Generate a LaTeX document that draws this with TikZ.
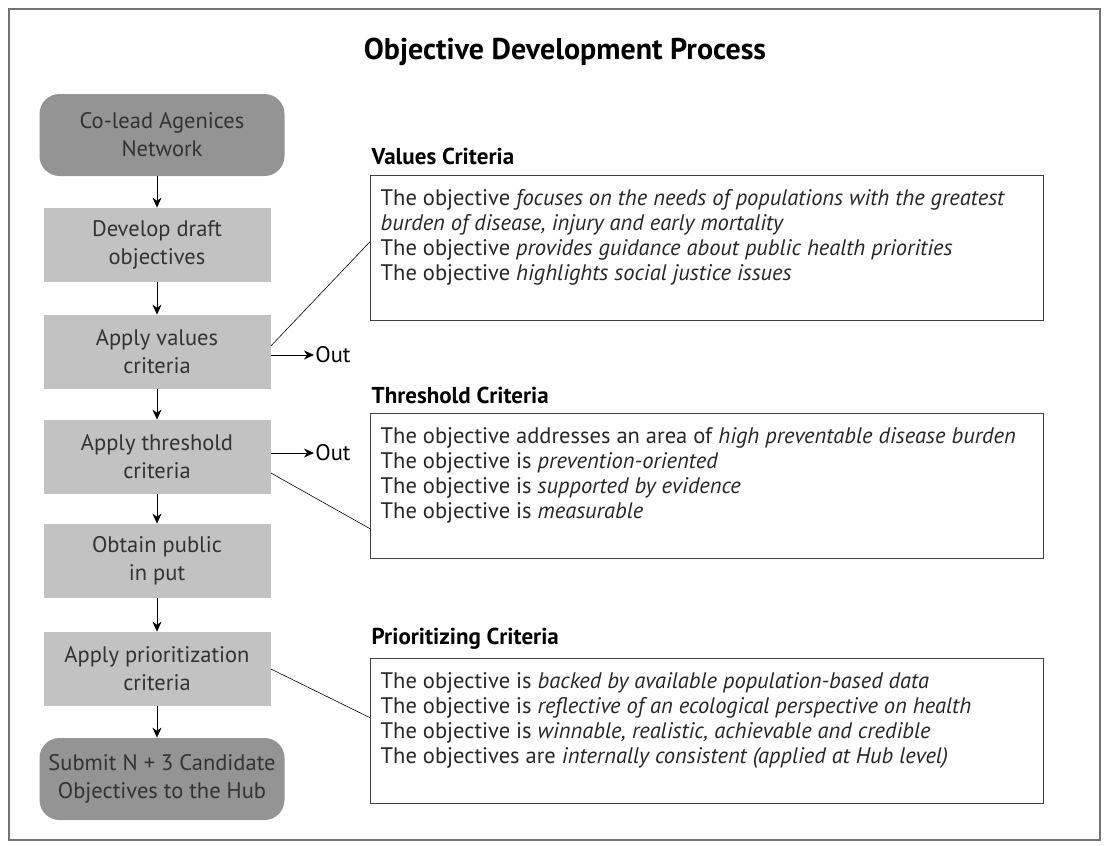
\documentclass[tikz,border=0pt]{standalone}
\usepackage{fontspec}
\setmainfont{PT Sans}
\usetikzlibrary{arrows.meta}
\tikzset{
	every path/.style={thick},
	stepbox/.style={
		rectangle,
		fill=black!24,
		text=black!80,
		align=center,
		minimum width=227pt,
		minimum height=74pt,
		font=\fontsize{22.5}{28}\selectfont,
	},
	endbox/.style={
		stepbox,
		rounded corners=20pt,
		fill=black!42,
		minimum width=245pt,
		minimum height=82pt,
	},
	critbox/.style={
		draw=black!75,
		thin,
		rectangle,
		anchor=north west,
		minimum width=673pt,
		minimum height=145pt,
	},
	crittext/.style={
		anchor=north west,
		align=left,
		text=black!85,
		font=\fontsize{22.5}{25}\selectfont,
	},
	crithead/.style={
		anchor=west,
		font=\fontsize{23}{26}\selectfont\bfseries,
	},
	outlabel/.style={
		inner sep=1pt,
		font=\fontsize{22.5}{26}\selectfont,
	},
	flow/.style={
		-{Stealth[length=10pt,width=9pt]},
	},
	link/.style={semithick},
}

\begin{document}
\begin{tikzpicture}[x=1pt,y=-1pt]
		\useasboundingbox (0,0) rectangle (1106,846);
		\draw[black!55,line width=2pt] (9,9) rectangle (1100,840);

		\node[font=\fontsize{30}{36}\selectfont\bfseries] (title) at (565,52) {Objective Development Process};

		% process steps
		\node[endbox] (colead) at (162,135) {Co-lead Agenices\\Network};
		\node[stepbox] (draft) at (157,245) {Develop draft\\objectives};
		\node[stepbox] (values) at (157,352) {Apply values\\criteria};
		\node[stepbox] (thresh) at (157,457) {Apply threshold\\criteria};
		\node[stepbox] (public) at (157,561) {Obtain public\\in put};
		\node[stepbox] (prior) at (157,669) {Apply prioritization\\criteria};
		\node[endbox] (submit) at (162,779) {Submit N + 3 Candidate\\Objectives to the Hub};

		\draw[flow] (colead.south -| draft.north) -- (draft.north);
		\draw[flow] (draft) -- (values);
		\draw[flow] (values) -- (thresh);
		\draw[flow] (thresh) -- (public);
		\draw[flow] (public) -- (prior);
		\draw[flow] (prior.south) -- (submit.north -| prior.south);

		% out arrows
		\node[outlabel, anchor=west] (outv) at (314,355) {Out};
		\node[outlabel, anchor=west] (outt) at (314,453) {Out};
		\draw[flow] (values.east |- outv.west) -- (outv.west);
		\draw[flow] (thresh.east |- outt.west) -- (outt.west);

		% criteria
		\node[crithead] (valhead) at (368,156) {Values Criteria};
		\node[critbox] (valbox) at (370,175) {};
		\node[crittext] (valtext) at (377,186) {The objective \textit{focuses on the needs of populations with the greatest}\\
			\textit{burden of disease, injury and early mortality}\\
			The objective \textit{provides guidance about public health priorities}\\
			The objective \textit{highlights social justice issues}};

		\node[crithead] (thrhead) at (368,395) {Threshold Criteria};
		\node[critbox] (thrbox) at (370,413) {};
		\node[crittext] (thrtext) at (377,424) {The objective addresses an area of \textit{high preventable disease burden}\\
			The objective is \textit{prevention-oriented}\\
			The objective is \textit{supported by evidence}\\
			The objective is \textit{measurable}};

		\node[crithead] (prhead) at (368,639) {Prioritizing Criteria};
		\node[critbox] (prbox) at (370,658) {};
		\node[crittext] (prtext) at (377,669) {The objective is \textit{backed by available population-based data}\\
			The objective is \textit{reflective of an ecological perspective on health}\\
			The objective is \textit{winnable, realistic, achievable and credible}\\
			The objectives are \textit{internally consistent (applied at Hub level)}};

		\draw[link] ([yshift=6pt]values.east) -- ([yshift=6pt]valbox.west);
		\draw[link] ([yshift=-16pt]thresh.east) -- ([yshift=-43pt]thrbox.west);
		\draw[link] (prior.east) -- ([yshift=13pt]prbox.west);

	\end{tikzpicture}
\end{document}
